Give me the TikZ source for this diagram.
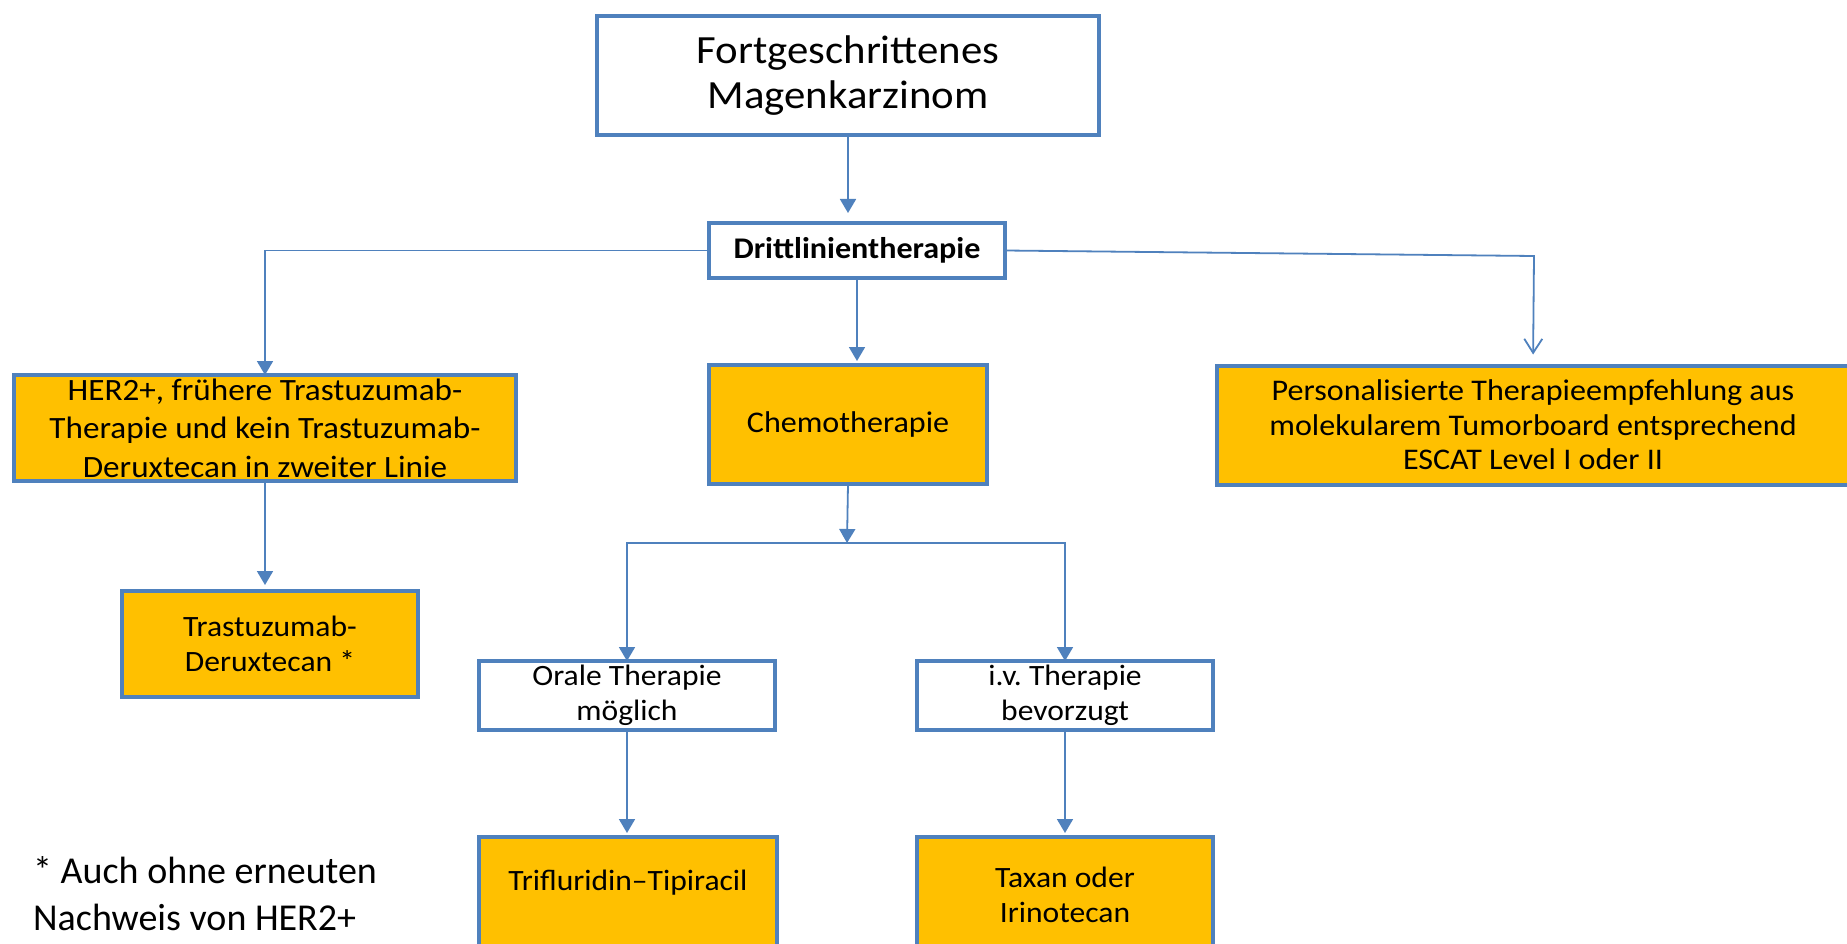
\documentclass[tikz,border=0pt]{standalone}
\usepackage{fontspec}
\setmainfont{Carlito}[FakeStretch=1.07]
\newfontfamily\footfont{Carlito}
\frenchspacing
\usetikzlibrary{arrows.meta}
\definecolor{boxblue}{HTML}{4F81BD}
\definecolor{boxorange}{HTML}{FFC000}
\tikzset{
  box/.style={draw=boxblue, line width=4pt, inner sep=2pt, outer sep=0pt, align=center, text=black},
  wbox/.style={box, fill=white},
  obox/.style={box, fill=boxorange},
  conn/.style={draw=boxblue, line width=1.8pt},
  arr/.style={conn, -{Triangle[width=16pt,length=14pt]}},
  openarr/.style={conn, -{Straight Barb[width=18pt,length=14pt,line width=1.8pt]}},
  fA/.style={font=\fontsize{40}{45}\selectfont},
  fB/.style={font=\fontsize{30}{34}\selectfont\bfseries},
  fC/.style={font=\fontsize{31}{38.5}\selectfont},
  fD/.style={font=\fontsize{29.5}{35}\selectfont},
  fE/.style={font=\fontsize{30}{34.5}\selectfont},
  fN/.style={font=\footfont\fontsize{38}{47}\selectfont},
}
\begin{document}
\begin{tikzpicture}[x=1pt, y=-1pt]
\useasboundingbox (0,0) rectangle (1847,944);
\clip (0,0) rectangle (1847,944);
\fill[white] (0,0) rectangle (1847,944);

\node[wbox, fA, minimum width=502pt, minimum height=119pt] (top) at (848,75.5) {Fortgeschrittenes\\Magenkarzinom};
\node[wbox, fB, minimum width=296pt, minimum height=55pt] (dritt) at (857,250.5) {Drittlinientherapie};
\node[obox, fC, minimum width=502pt, minimum height=106pt] (her2) at (265,428) {HER2+, frühere Trastuzumab-\\Therapie und kein Trastuzumab-\\Deruxtecan in zweiter Linie};
\node[obox, fD, minimum width=296pt, minimum height=106pt] (trast) at (270,644) {Trastuzumab-\\Deruxtecan *};
\node[obox, fE, minimum width=278pt, minimum height=119pt] (chemo) at (848,424.5) {Chemotherapie};
\node[obox, fE, minimum width=632pt, minimum height=119pt] (pers) at (1533,425) {Personalisierte Therapieempfehlung aus\\molekularem Tumorboard entsprechend\\ESCAT Level I oder II};
\node[wbox, fD, minimum width=296pt, minimum height=69pt] (orale) at (627,695.5) {Orale Therapie\\möglich};
\node[wbox, fD, minimum width=296pt, minimum height=69pt] (iv) at (1065,695.5) {i.v. Therapie\\bevorzugt};
\node[obox, fD, minimum width=298pt, minimum height=115pt] (trifl) at (628,894.5) {Trifluridin–Tipiracil\\[-7pt]};
\node[obox, fD, minimum width=296pt, minimum height=115pt] (taxan) at (1065,894.5) {Taxan oder\\Irinotecan};

\node[fN, anchor=north west, align=left, inner sep=0pt] (foot) at (33,856) {* Auch ohne erneuten\\Nachweis von HER2+};

\coordinate (split) at (847,543);

\draw[arr, shorten >=10pt] (top.south) -- (top.south |- dritt.north);
\draw[arr] (dritt.west) -| (her2.north);
\draw[openarr, shorten >=11pt] (dritt.east) -- (1534,256) -- (pers.north);
\draw[arr, shorten >=4pt] (dritt.south) -- (dritt.south |- chemo.north);
\draw[arr, shorten >=6pt] (her2.south) -- (her2.south |- trast.north);
\draw[arr] (chemo.south) -- (split);
\draw[arr] (split) -| (orale.north);
\draw[arr] (split) -| (iv.north);
\draw[arr, shorten >=4pt] (orale.south) -- (orale.south |- trifl.north);
\draw[arr, shorten >=4pt] (iv.south) -- (iv.south |- taxan.north);
\end{tikzpicture}
\end{document}
